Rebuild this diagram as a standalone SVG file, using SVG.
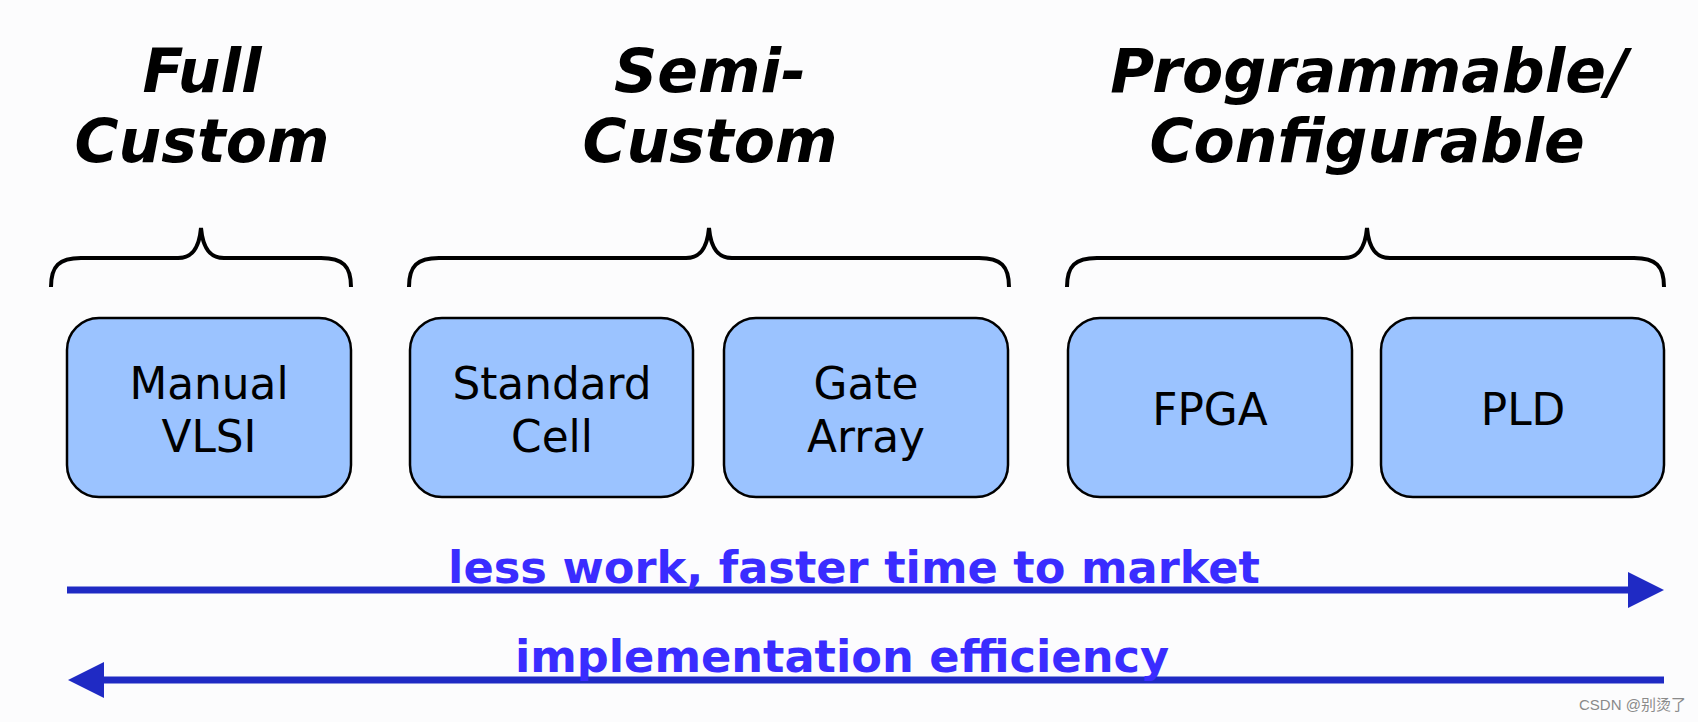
<svg xmlns="http://www.w3.org/2000/svg" width="1698" height="722" viewBox="0 0 1698 722">
<style>
.bg{fill:#fcfcfd}
.title{font-family:"DejaVu Sans",Verdana,sans-serif;font-weight:bold;font-style:italic;font-size:60px;fill:#000;text-anchor:middle}
.box{fill:#9bc3ff;stroke:#000;stroke-width:2.5}
.lbl{font-family:"DejaVu Sans",Verdana,sans-serif;font-size:43.8px;fill:#000;text-anchor:middle}
.brace{fill:none;stroke:#000;stroke-width:4;stroke-linecap:butt}
.arr{stroke:#1f2ac4;stroke-width:7;fill:none}
.head{fill:#1f2ac4}
.atxt{font-family:"DejaVu Sans",Verdana,sans-serif;font-weight:bold;font-size:44.7px;fill:#3a2cff;text-anchor:middle}
.wm{font-family:"Liberation Sans","Noto Sans CJK SC",sans-serif;font-size:15px;fill:#8a8a8a}
</style>
<rect class="bg" x="0" y="0" width="1698" height="722"/>

<g id="title-full-custom">
<text class="title" x="202" y="92">Full</text>
<text class="title" x="202" y="162">Custom</text>
<path class="brace" d="M51,287 C51,266 59,258 81,258 H178 C191,258 199,250 201,228 C203,250 211,258 224,258 H321 C343,258 351,266 351,287"/>
</g>

<g id="title-semi-custom">
<text class="title" x="710" y="92">Semi-</text>
<text class="title" x="710" y="162">Custom</text>
<path class="brace" d="M409,287 C409,266 417,258 439,258 H686 C699,258 707,250 709,228 C711,250 719,258 732,258 H979 C1001,258 1009,266 1009,287"/>
</g>

<g id="title-programmable">
<text class="title" x="1369" y="92">Programmable/</text>
<text class="title" x="1367" y="162">Configurable</text>
<path class="brace" d="M1067,287 C1067,266 1075,258 1097,258 H1344 C1357,258 1365,250 1367,228 C1369,250 1377,258 1390,258 H1634 C1656,258 1664,266 1664,287"/>
</g>

<g id="node-manual-vlsi">
<rect class="box" x="67" y="318" width="284" height="179" rx="32" ry="32"/>
<text class="lbl" x="209" y="399">Manual</text>
<text class="lbl" x="209" y="452">VLSI</text>
</g>
<g id="node-standard-cell">
<rect class="box" x="410" y="318" width="283" height="179" rx="32" ry="32"/>
<text class="lbl" x="552" y="399">Standard</text>
<text class="lbl" x="552" y="452">Cell</text>
</g>
<g id="node-gate-array">
<rect class="box" x="724" y="318" width="284" height="179" rx="32" ry="32"/>
<text class="lbl" x="866" y="399">Gate</text>
<text class="lbl" x="866" y="452">Array</text>
</g>
<g id="node-fpga">
<rect class="box" x="1068" y="318" width="284" height="179" rx="32" ry="32"/>
<text class="lbl" x="1210" y="425">FPGA</text>
</g>
<g id="node-pld">
<rect class="box" x="1381" y="318" width="283" height="179" rx="32" ry="32"/>
<text class="lbl" x="1523" y="425">PLD</text>
</g>

<g id="connectors">
<line class="arr" x1="67" y1="590" x2="1632" y2="590"/>
<polygon class="head" points="1628,572 1664,590 1628,608"/>
<line class="arr" x1="100" y1="680" x2="1664" y2="680"/>
<polygon class="head" points="104,662 68,680 104,698"/>
<text class="atxt" x="854" y="583">less work, faster time to market</text>
<text class="atxt" x="842" y="672">implementation efficiency</text>
</g>

<text class="wm" x="1579" y="710">CSDN @别烫了</text>
</svg>
